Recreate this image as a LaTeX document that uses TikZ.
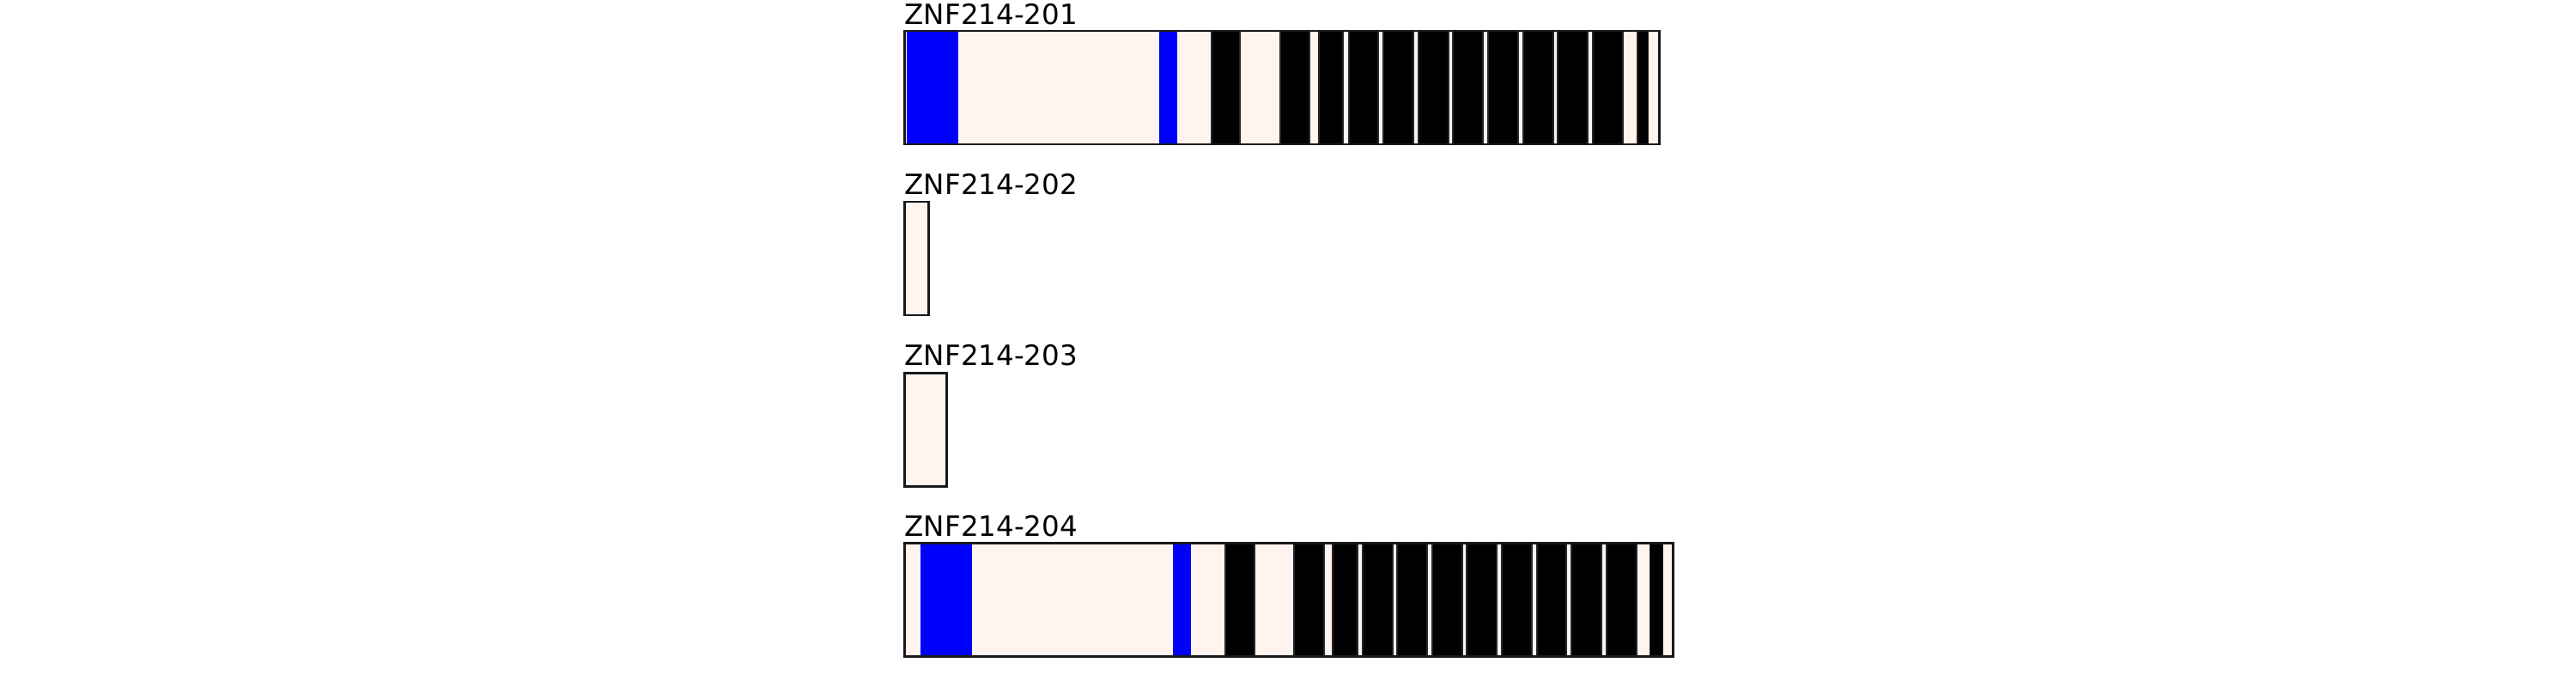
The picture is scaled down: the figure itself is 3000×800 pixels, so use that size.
\documentclass[tikz,border=0pt]{standalone}
\usepackage{fontspec}
\setmainfont{DejaVu Sans}
\definecolor{utr}{HTML}{FFF4EE}
\definecolor{cds}{HTML}{0000FF}
\begin{document}
\begin{tikzpicture}[x=0.01cm,y=-0.01cm,
  lbl/.style={anchor=base west,inner sep=0pt,font=\fontsize{9.25pt}{11pt}\selectfont},
  frame/.style={draw=black!90,line width=0.85pt},
  bluebox/.style={fill=cds,draw=none},
  blackbox/.style={fill=black,draw=black!85,line width=0.3pt}]
\useasboundingbox (0,0) rectangle (3000,800);
% ZNF214-201
\node[lbl] (l1) at (1053,28) {ZNF214-201};
\fill[utr] (1053,36) rectangle (1932,168);
\foreach \a/\b in {1056/1116,1350/1371}{\fill[bluebox] (\a,37) rectangle (\b,167);}
\foreach \a/\b in {1411/1444,1491/1525,1536/1564,1571/1605,1611/1646,1652/1687,1692/1727,1733/1768,1774/1809,1814/1849,1855/1890,1907/1919}{\draw[blackbox] (\a,36) rectangle (\b,168);}
\draw[frame] (1053,36) rectangle (1932,168);
% ZNF214-202
\node[lbl] (l2) at (1053,226.5) {ZNF214-202};
\draw[frame,fill=utr] (1053,235) rectangle (1081,367);
% ZNF214-203
\node[lbl] (l3) at (1053,425.5) {ZNF214-203};
\draw[frame,fill=utr] (1053,434) rectangle (1102,566);
% ZNF214-204
\node[lbl] (l4) at (1053,624) {ZNF214-204};
\fill[utr] (1053,632) rectangle (1948,764);
\foreach \a/\b in {1072/1132,1366/1387}{\fill[bluebox] (\a,633) rectangle (\b,763);}
\foreach \a/\b in {1427/1461,1507/1542,1552/1581,1587/1622,1627/1662,1668/1703,1708/1743,1749/1784,1790/1824,1830/1865,1871/1906,1921/1936}{\draw[blackbox] (\a,632) rectangle (\b,764);}
\draw[frame] (1053,632) rectangle (1948,764);
\end{tikzpicture}
\end{document}
